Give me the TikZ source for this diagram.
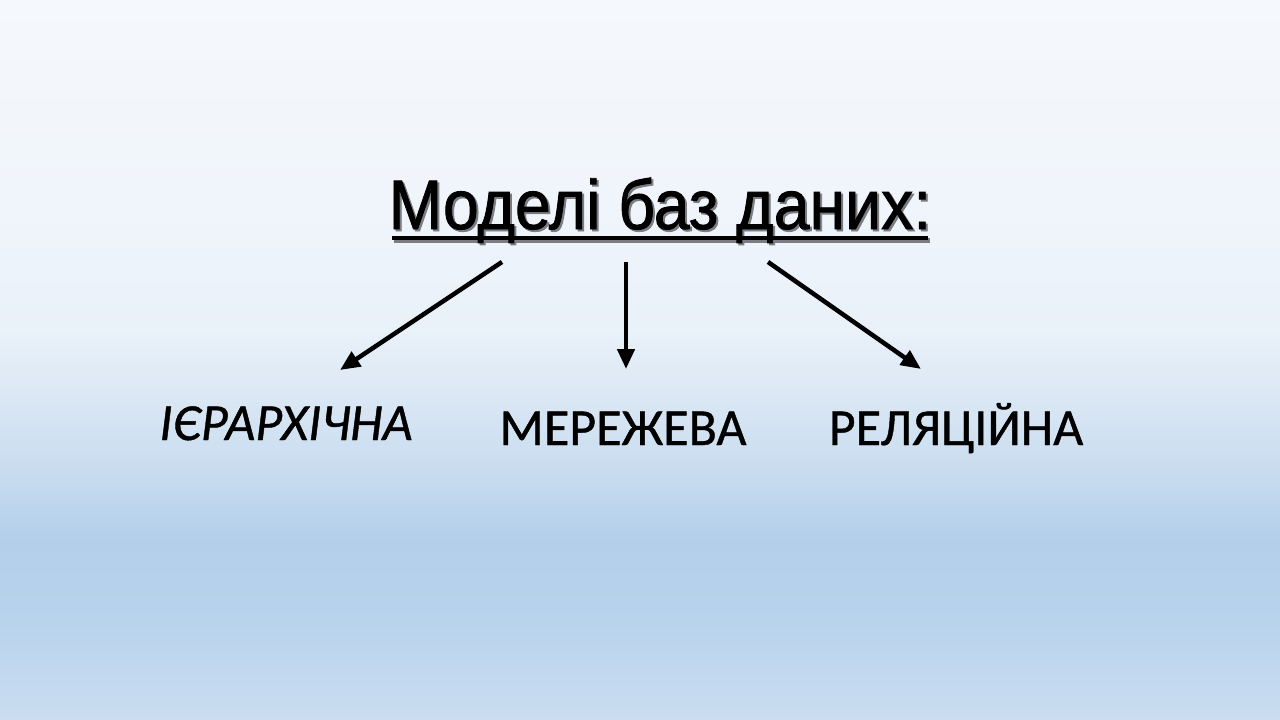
\documentclass[tikz,border=0pt]{standalone}
\usepackage{fontspec}
\setmainfont{Liberation Sans}
\newfontfamily\titlefont[FakeStretch=0.92,FakeBold=1.2]{Liberation Sans}
\newfontfamily\calfont[FakeBold=0.8]{Carlito}
\usetikzlibrary{arrows.meta}
\definecolor{bgA}{HTML}{F5F8FC}
\definecolor{bgB}{HTML}{F0F5FB}
\definecolor{bgC}{HTML}{E9F1F9}
\definecolor{bgD}{HTML}{DAE7F4}
\definecolor{bgE}{HTML}{C8DCEF}
\definecolor{bgF}{HTML}{B3CFEA}
\definecolor{bgG}{HTML}{B8D3EC}
\definecolor{bgH}{HTML}{CADDF1}
\definecolor{shadowgray}{HTML}{7A7E84}
% positions: bp = 75 - 50*y/720 (y measured from the top)
\pgfdeclareverticalshading{slidebg}{100bp}{%
  color(0bp)=(bgH); color(25bp)=(bgH); color(31.94bp)=(bgG); color(37.5bp)=(bgF);
  color(42.36bp)=(bgE); color(47.22bp)=(bgD); color(52.08bp)=(bgC);
  color(61.11bp)=(bgB); color(75bp)=(bgA); color(100bp)=(bgA)}
\tikzset{
  titletext/.style={font=\titlefont\fontsize{70}{80}\selectfont, inner sep=0pt, anchor=base},
  labeltext/.style={font=\calfont\fontsize{52}{60}\selectfont, inner sep=0pt, anchor=base},
  arrowline/.style={line width=4.5pt, -{Triangle[length=20pt,width=17pt]}},
}
\begin{document}
\begin{tikzpicture}[x=1pt,y=-1pt]
\shade[shading=slidebg] (0,0) rectangle (1280,720);
\useasboundingbox (0,0) rectangle (1280,720);
% title with shadow
\node[titletext, text=shadowgray] (titleshadow) at (662,231) {Моделі баз даних:};
\fill[shadowgray] (394,238) rectangle (930,243);
\node[titletext] (title) at (660,229) {Моделі баз даних:};
\fill[black] (392,235.5) rectangle (928,240);
% labels
\node[labeltext] (hier) at (286,440) {\itshape ІЄРАРХІЧНА};
\node[labeltext] (net) at (623,445) {МЕРЕЖЕВА};
\node[labeltext] (rel) at (956,445) {РЕЛЯЦІЙНА};
% arrow coordinates
\coordinate (s1) at (502,262);
\coordinate (e1) at (340,370);
\coordinate (s2) at (626,262);
\coordinate (e2) at (626,369);
\coordinate (s3) at (768,262);
\coordinate (e3) at (921,369);
\draw[arrowline] (s1) -- (e1);
\draw[arrowline] (s2) -- (e2);
\draw[arrowline] (s3) -- (e3);
\end{tikzpicture}
\end{document}
